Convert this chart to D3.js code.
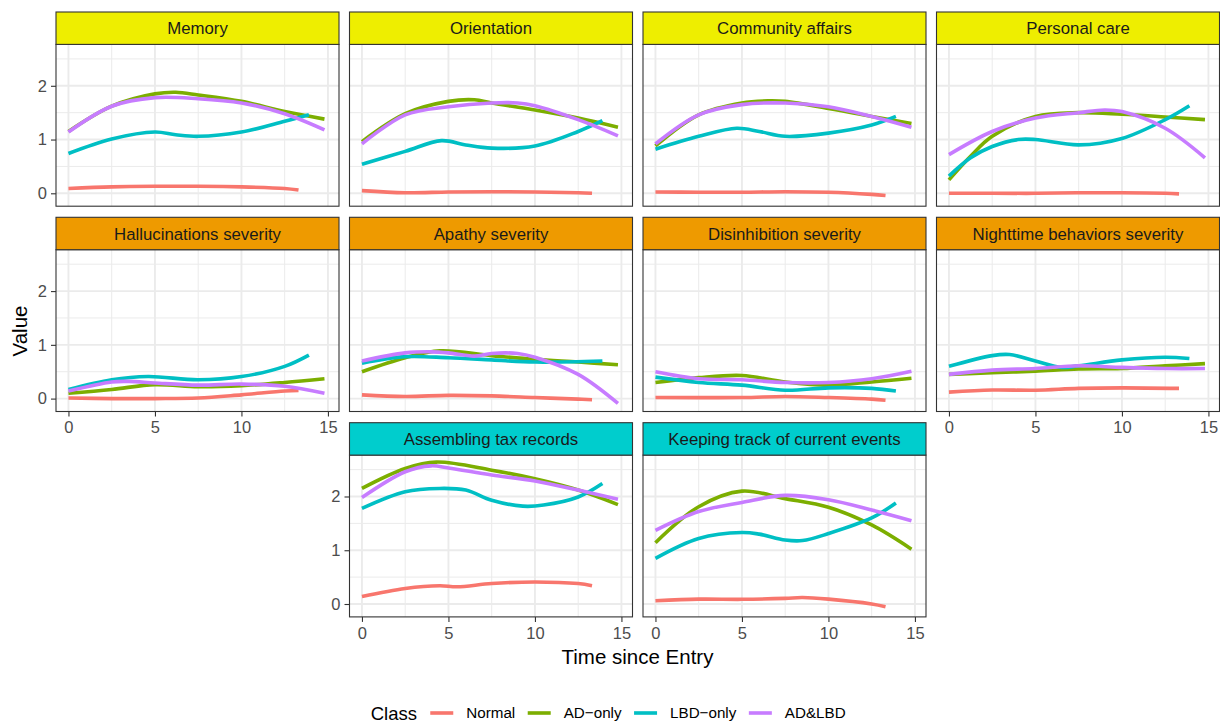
<!doctype html>
<html>
  <head>
    <meta charset="utf-8">
    <title>Trajectories by Class</title>
    <style>
      body { margin: 0; background: #fff; }
      text { font-family: "Liberation Sans", Arial, sans-serif; }
    </style>
    <script src="https://cdnjs.cloudflare.com/ajax/libs/d3/7.8.5/d3.min.js"></script>
  </head>
  <body>
    <div id="chart"></div>
    <script>
      // --- data: smoothed curves, [time, value] pairs ---
      const classes = ["Normal", "AD\u2212only", "LBD\u2212only", "AD&LBD"];
      const panels = ["Memory", "Orientation", "Community affairs", "Personal care",
        "Hallucinations severity", "Apathy severity", "Disinhibition severity", "Nighttime behaviors severity",
        "Assembling tax records", "Keeping track of current events"];
      const panelGroup = [0, 0, 0, 0, 1, 1, 1, 1, 2, 2];
      const xTicks = [0, 5, 10, 15];
      const yTicks = [0, 1, 2];

      // each panel: [Normal, AD-only, LBD-only, AD&LBD]
      const memory = [
        [[0, .09], [2.5, .12], [5, .13], [7.5, .13], [10, .12], [12.5, .09], [13.3, .06]],
        [[0, 1.15], [2.5, 1.62], [5, 1.85], [6.2, 1.88], [7.5, 1.83], [10, 1.71], [12.5, 1.52], [14.8, 1.38]],
        [[0, .74], [2.5, 1.01], [5, 1.14], [6.2, 1.09], [7.5, 1.06], [10, 1.14], [12.5, 1.34], [13.9, 1.46]],
        [[0, 1.14], [2.5, 1.62], [5, 1.78], [7.5, 1.76], [10, 1.68], [12.5, 1.48], [14.8, 1.18]]
      ];
      const orientation = [
        [[0, .05], [2.5, .01], [5, .025], [7.5, .03], [10, .025], [12.5, .01], [13.3, 0]],
        [[0, .96], [2.5, 1.48], [5, 1.71], [6.5, 1.74], [7.5, 1.68], [10, 1.55], [12.5, 1.40], [14.8, 1.23]],
        [[0, .54], [2.5, .78], [4.6, .98], [6, .90], [7.5, .84], [10, .88], [12.5, 1.15], [13.9, 1.35]],
        [[0, .92], [2.5, 1.46], [5, 1.61], [7.5, 1.68], [9, 1.68], [10, 1.63], [12.5, 1.37], [14.8, 1.07]]
      ];
      const community = [
        [[0, .025], [2.5, .02], [5, .02], [7.5, .03], [10, .02], [12.5, -.02], [13.3, -.04]],
        [[0, .88], [2.5, 1.46], [5, 1.68], [6.5, 1.72], [7.5, 1.71], [10, 1.58], [12.5, 1.43], [14.8, 1.30]],
        [[0, .82], [2.5, 1.06], [4.7, 1.21], [6, 1.15], [7.5, 1.06], [10, 1.12], [12.5, 1.27], [13.9, 1.43]],
        [[0, .92], [2.5, 1.46], [5, 1.65], [7.5, 1.68], [10, 1.61], [12.5, 1.43], [14.8, 1.23]]
      ];
      const personal = [
        [[0, 0], [2.5, 0], [5, 0], [7.5, .01], [10, .01], [12.5, 0], [13.3, -.01]],
        [[0, .25], [1.25, .69], [2.5, 1.06], [5, 1.43], [7.5, 1.50], [10, 1.47], [12.5, 1.42], [14.8, 1.37]],
        [[0, .32], [1.25, .66], [2.5, .87], [4, 1.0], [5, 1.0], [7.5, .90], [10, 1.02], [12.5, 1.37], [13.9, 1.63]],
        [[0, .72], [2.5, 1.15], [5, 1.40], [7.5, 1.50], [9, 1.55], [10, 1.52], [12.5, 1.21], [14.8, .66]]
      ];
      const halluc = [
        [[0, .01], [2.5, 0], [5, 0], [7.5, .01], [10, .07], [12.5, .14], [13.3, .15]],
        [[0, .10], [2.5, .17], [5, .26], [7.5, .22], [10, .24], [12.5, .30], [14.8, .37]],
        [[0, .17], [2.5, .35], [4.6, .41], [7.5, .35], [10, .41], [12.5, .60], [13.9, .81]],
        [[0, .14], [2.5, .31], [3.5, .32], [5, .29], [7.5, .25], [10, .27], [12.5, .23], [14.8, .10]]
      ];
      const apathy = [
        [[0, .07], [2.5, .04], [5, .06], [7.5, .05], [10, .02], [12.5, -.01], [13.3, -.02]],
        [[0, .50], [2.5, .76], [4.5, .89], [7.5, .80], [10, .73], [12.5, .68], [14.8, .63]],
        [[0, .66], [2.5, .78], [5, .76], [7.5, .72], [10, .68], [13.9, .70]],
        [[0, .70], [2.5, .85], [4, .87], [5, .85], [6.5, .79], [7.5, .84], [9, .84], [10, .77], [12.5, .45], [14.8, -.09]]
      ];
      const disinhib = [
        [[0, .02], [5, .02], [7.5, .04], [10, .02], [12.5, -.01], [13.3, -.03]],
        [[0, .30], [2.5, .39], [5, .43], [7.5, .31], [10, .25], [12.5, .31], [14.8, .38]],
        [[0, .40], [2.5, .30], [5, .25], [7.5, .155], [10, .20], [12.5, .19], [13.9, .14]],
        [[0, .50], [2.5, .37], [5, .35], [7.5, .30], [10, .30], [12.5, .37], [14.8, .51]]
      ];
      const nighttime = [
        [[0, .12], [2.5, .16], [5, .155], [7.5, .19], [10, .20], [13.3, .19]],
        [[0, .45], [2.5, .48], [5, .51], [7.5, .55], [10, .56], [12.5, .61], [14.8, .65]],
        [[0, .60], [2.5, .80], [3.5, .82], [5, .70], [6.5, .58], [7.5, .61], [10, .72], [12.5, .77], [13.9, .745]],
        [[0, .45], [2.5, .53], [5, .56], [7.5, .61], [10, .58], [12.5, .56], [14.8, .56]]
      ];
      const taxRecords = [
        [[0, .14], [2.5, .29], [4.5, .34], [5.5, .32], [7.5, .38], [10, .41], [12.5, .38], [13.3, .34]],
        [[0, 2.15], [2.5, 2.52], [4.3, 2.64], [7.5, 2.49], [10, 2.33], [12.5, 2.12], [14.8, 1.85]],
        [[0, 1.78], [2.5, 2.09], [4.5, 2.15], [6, 2.12], [7.5, 1.93], [9.3, 1.82], [10.5, 1.84], [12.5, 1.99], [13.9, 2.24]],
        [[0, 1.98], [2.5, 2.46], [4, 2.57], [5, 2.53], [7.5, 2.40], [10, 2.29], [12.5, 2.12], [14.8, 1.95]]
      ];
      const currentEvents = [
        [[0, .06], [2.5, .09], [5, .087], [7.5, .105], [8.5, .12], [10, .09], [12.5, 0], [13.3, -.05]],
        [[0, 1.14], [2.5, 1.81], [5, 2.10], [7.5, 1.96], [10, 1.80], [12.5, 1.47], [14.8, 1.02]],
        [[0, .85], [2.5, 1.22], [5, 1.33], [6, 1.30], [7.5, 1.19], [8.5, 1.18], [10, 1.31], [12.5, 1.60], [13.9, 1.88]],
        [[0, 1.37], [2.5, 1.72], [5, 1.89], [7.5, 2.02], [10, 1.94], [12.5, 1.75], [14.8, 1.55]]
      ];
      const panelData = [memory, orientation, community, personal, halluc, apathy,
        disinhib, nighttime, taxRecords, currentEvents];

      // --- look ---
      const classColor = d3.scaleOrdinal().domain(classes)
        .range(["#F8766D", "#7CAE00", "#00BFC4", "#C77CFF"]);
      const stripColor = ["#EEEE00", "#EE9A00", "#00CDCD"];

      // facet layout (last row starts in the 2nd column)
      const colX = [56, 349.5, 643, 936.5], panelW = 283;
      const rowY = [12, 217.3, 422.7], stripH = 32.4, plotH = 161.8;
      const panelCol = [0, 1, 2, 3, 0, 1, 2, 3, 1, 2];
      const panelRow = [0, 0, 0, 0, 1, 1, 1, 1, 2, 2];
      const hasXAxis = [false, false, false, false, true, false, false, true, true, true];
      const hasYAxis = [true, false, false, false, true, false, false, false, true, false];

      const x = d3.scaleLinear().domain([-0.72, 15.64]).range([0, panelW]);
      const y = d3.scaleLinear().domain([-0.24, 2.77]).range([plotH, 0]);

      const line = d3.line()
        .x(d => x(d[0]))
        .y(d => y(d[1]))
        .curve(d3.curveCatmullRom.alpha(0.5));

      const svg = d3.select("#chart").append("svg")
        .attr("width", 1220)
        .attr("height", 723);

      svg.append("defs").append("clipPath").attr("id", "plotclip")
        .append("rect").attr("width", panelW).attr("height", plotH);

      panels.forEach(function(name, i) {
        const px = colX[panelCol[i]], top = rowY[panelRow[i]];
        const g = svg.append("g").attr("transform", `translate(${px},${top + stripH})`);

        // strip
        svg.append("rect")
          .attr("x", px).attr("y", top)
          .attr("width", panelW).attr("height", stripH)
          .attr("fill", stripColor[panelGroup[i]])
          .attr("stroke", "#333333").attr("stroke-width", 1.1);
        svg.append("text")
          .attr("x", px + panelW / 2).attr("y", top + stripH / 2)
          .attr("text-anchor", "middle").attr("dy", "0.36em")
          .attr("font-size", 16.8).attr("fill", "#1A1A1A")
          .text(name);

        // grid, minor first
        const minorX = [2.5, 7.5, 12.5], minorY = [0.5, 1.5, 2.5];
        g.selectAll(".mx").data(minorX).join("line")
          .attr("x1", d => x(d)).attr("x2", d => x(d)).attr("y1", 0).attr("y2", plotH)
          .attr("stroke", "#EBEBEB").attr("stroke-width", 1);
        g.selectAll(".my").data(minorY).join("line")
          .attr("y1", d => y(d)).attr("y2", d => y(d)).attr("x1", 0).attr("x2", panelW)
          .attr("stroke", "#EBEBEB").attr("stroke-width", 1);
        g.selectAll(".gx").data(xTicks).join("line")
          .attr("x1", d => x(d)).attr("x2", d => x(d)).attr("y1", 0).attr("y2", plotH)
          .attr("stroke", "#EBEBEB").attr("stroke-width", 1.9);
        g.selectAll(".gy").data(yTicks).join("line")
          .attr("y1", d => y(d)).attr("y2", d => y(d)).attr("x1", 0).attr("x2", panelW)
          .attr("stroke", "#EBEBEB").attr("stroke-width", 1.9);

        // the four class curves
        g.append("g").attr("clip-path", "url(#plotclip)")
          .selectAll("path").data(panelData[i]).join("path")
          .attr("d", line)
          .attr("fill", "none")
          .attr("stroke", (d, k) => classColor(classes[k]))
          .attr("stroke-width", 3.6);

        g.append("rect")
          .attr("width", panelW).attr("height", plotH)
          .attr("fill", "none").attr("stroke", "#333333").attr("stroke-width", 1.1);

        // axes only on outer panels
        if (hasXAxis[i]) {
          const ax = g.append("g").attr("transform", `translate(0,${plotH})`)
            .call(d3.axisBottom(x).tickValues(xTicks).tickFormat(d3.format("d")).tickSize(5).tickPadding(5));
          ax.select(".domain").remove();
          ax.selectAll("line").attr("stroke", "#333333").attr("stroke-width", 1.1);
          ax.selectAll("text").attr("font-size", 16.5).attr("fill", "#4D4D4D").attr("font-family", null);
        }
        if (hasYAxis[i]) {
          const ay = g.append("g")
            .call(d3.axisLeft(y).tickValues(yTicks).tickFormat(d3.format("d")).tickSize(5).tickPadding(4));
          ay.select(".domain").remove();
          ay.selectAll("line").attr("stroke", "#333333").attr("stroke-width", 1.1);
          ay.selectAll("text").attr("font-size", 16.5).attr("fill", "#4D4D4D").attr("font-family", null);
        }
      });

      // axis titles
      svg.append("text")
        .attr("x", 637.5).attr("y", 657).attr("dy", "0.36em")
        .attr("text-anchor", "middle").attr("font-size", 20.5)
        .text("Time since Entry");
      svg.append("text")
        .attr("transform", "translate(20,331) rotate(-90)")
        .attr("dy", "0.36em")
        .attr("text-anchor", "middle").attr("font-size", 20.5)
        .text("Value");

      // legend at the bottom
      const legend = svg.append("g").attr("transform", "translate(0,713)");
      const title = legend.append("text")
        .attr("x", 370.7).attr("dy", "0.36em").attr("font-size", 18.5)
        .text("Class");
      let lx = 370.7 + title.node().getComputedTextLength() + 13.3;
      classes.forEach(function(c) {
        legend.append("line")
          .attr("x1", lx).attr("x2", lx + 23)
          .attr("stroke", classColor(c)).attr("stroke-width", 3.6);
        const t = legend.append("text")
          .attr("x", lx + 36).attr("dy", "0.36em").attr("font-size", 15.2)
          .text(c);
        lx = lx + 36 + t.node().getComputedTextLength() + 12.5;
      });
    </script>
  </body>
</html>
